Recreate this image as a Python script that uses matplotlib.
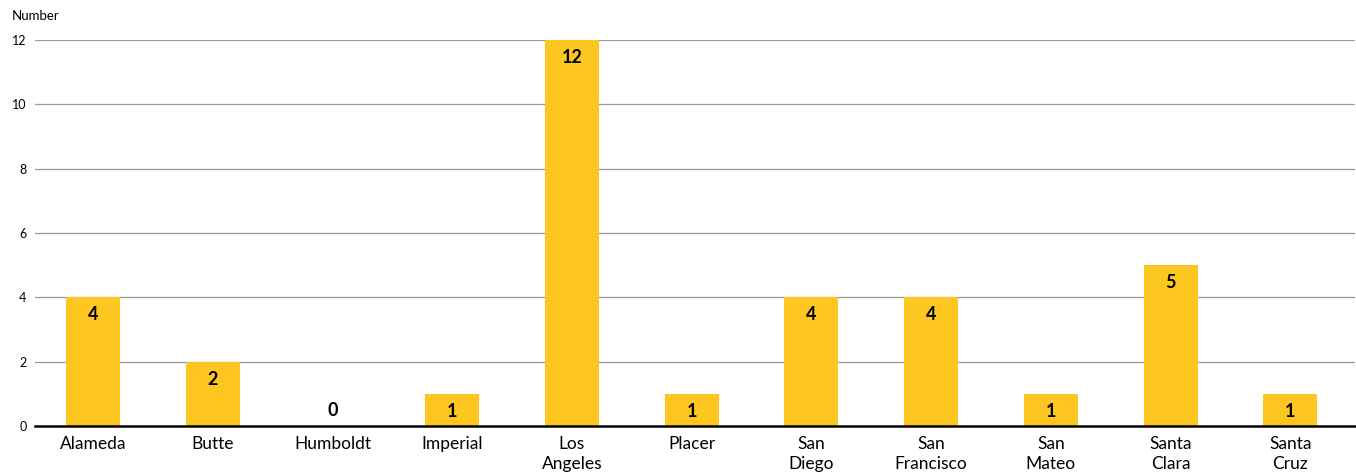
import matplotlib.pyplot as plt
from matplotlib.ticker import MultipleLocator

# counties and counts
counties = ["Alameda", "Butte", "Humboldt", "Imperial", "Los\nAngeles", "Placer",
            "San\nDiego", "San\nFrancisco", "San\nMateo", "Santa\nClara", "Santa\nCruz"]
counts = [4, 2, 0, 1, 12, 1, 4, 4, 1, 5, 1]

BAR_COLOR = "#FEC620"

plt.rcParams['font.family'] = ['Lato', 'DejaVu Sans']

fig = plt.figure(figsize=(13.56, 4.76), dpi=100)
ax = fig.add_axes([35 / 1356, 50 / 476, 1320 / 1356, 386 / 476])

x = list(range(len(counties)))
ax.bar(x, counts, width=0.45, color=BAR_COLOR, zorder=2)

ax.set_xlim(-0.485, len(counties) - 1 + 0.54)
ax.set_ylim(0, 12)
ax.yaxis.set_major_locator(MultipleLocator(2))
ax.grid(axis='y', color='#9a9a9a', linewidth=0.9, zorder=0)
ax.set_axisbelow(True)

for s in ['top', 'right', 'left']:
    ax.spines[s].set_visible(False)
ax.spines['bottom'].set_color('black')
ax.spines['bottom'].set_linewidth(1.8)
ax.spines['bottom'].set_zorder(3)

ax.set_xticks(x)
ax.set_xticklabels(counties, fontsize=12.5, linespacing=1.3)
ax.tick_params(axis='x', length=0, pad=7)
ax.tick_params(axis='y', length=0, pad=6, labelsize=9)

# value labels inside the bars, above the baseline for zeros
for xi, v in zip(x, counts):
    if v == 0:
        ax.annotate(str(v), (xi, v), xytext=(0, 11), textcoords='offset points',
                    ha='center', va='center', fontsize=13, fontweight='bold')
    else:
        ax.annotate(str(v), (xi, v), xytext=(0, -12.5), textcoords='offset points',
                    ha='center', va='center', fontsize=13, fontweight='bold')

fig.text(12 / 1356, 1 - 16 / 476, "Number", fontsize=9.5, ha='left', va='center')

fig.savefig("out.png", dpi=100)
